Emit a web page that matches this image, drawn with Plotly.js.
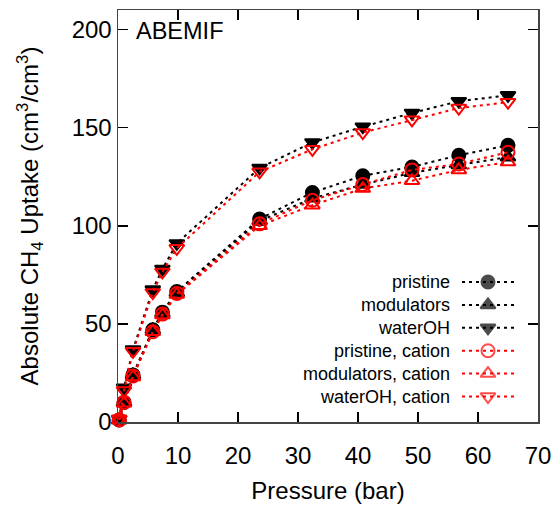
<!DOCTYPE html>
<html>
<head>
<meta charset="utf-8">
<script src="https://cdn.plot.ly/plotly-3.0.1.min.js"></script>
<style>html,body{margin:0;padding:0;background:#fff;}#chart{width:556px;height:506px;}</style>
</head>
<body>
<div id="chart"></div>
<script>
// ---- data ----
const pressure = [0.2, 1.0, 2.5, 5.8, 7.4, 9.8, 23.6, 32.4, 40.8, 49.0, 56.8, 65.0];
const pristine = [1, 10, 24, 47, 56, 66.5, 103.5, 117, 125.5, 130, 136, 141];
const modulators = [1, 10, 24, 47, 55.5, 66, 102.5, 114, 121, 127, 131, 135];
const waterOH = [1.5, 17.5, 37, 67.5, 78, 91, 129.5, 142.5, 150.5, 157.5, 163.5, 166.5];
const pristineCation = [1, 10, 23.5, 46, 55, 65.5, 101, 113, 121, 128.5, 131.5, 137.5];
const modulatorsCation = [1, 9.5, 23, 46, 54.5, 65, 100, 110.5, 119, 123, 128.5, 132.5];
const waterOHCation = [1.5, 16, 36, 66, 76.5, 88.5, 127.5, 139, 147.5, 154, 160, 163];
const seriesNames = ["pristine", "modulators", "waterOH", "pristine, cation", "modulators, cation", "waterOH, cation"];
const xTicks = [0, 10, 20, 30, 40, 50, 60, 70];
const yTicks = [0, 50, 100, 150, 200];

// ---- styles ----
const FONT = "Liberation Sans, Arial, sans-serif";
const seriesData = [pristine, modulators, waterOH, pristineCation, modulatorsCation, waterOHCation];
const colors = ["#000000", "#000000", "#000000", "#ff0000", "#ff0000", "#ff0000"];
const symbols = ["circle", "triangle-up", "triangle-down", "circle-open", "triangle-up-open", "triangle-down-open"];
const DASH = "3px,4px";

const traces = [];
seriesData.forEach((ys, i) => {
  traces.push({
    x: pressure, y: ys, type: "scatter", mode: "lines+markers", name: seriesNames[i],
    line: {color: colors[i], width: 2, dash: DASH},
    marker: {symbol: symbols[i], size: 13, color: colors[i], line: {color: colors[i], width: 2}},
    cliponaxis: false, showlegend: false, xaxis: "x", yaxis: "y"
  });
});

// custom legend (text on the left, sample on the right), in a pixel-mapped overlay axis
const PLOT_L = 118, PLOT_R = 538, PLOT_T = 10, PLOT_B = 422;
const legendTextRight = 452, sampleX0 = 462, sampleX1 = 514, rowTop = 282, rowStep = 22.9;
const annotations = [{
  text: "ABEMIF", xref: "paper", yref: "paper", x: 0.038, y: 0.985, xanchor: "left", yanchor: "top",
  showarrow: false, font: {family: FONT, size: 23.5, color: "#000"}
}];
seriesNames.forEach((nm, i) => {
  const yRow = rowTop + i * rowStep;
  traces.push({
    x: [sampleX0, (sampleX0 + sampleX1) / 2, sampleX1], y: [yRow, yRow, yRow],
    type: "scatter", mode: "lines+markers", xaxis: "x2", yaxis: "y2", showlegend: false, hoverinfo: "skip",
    line: {color: colors[i], width: 2, dash: DASH},
    marker: {symbol: symbols[i], size: [0, 13, 0], color: colors[i], line: {color: colors[i], width: 2}},
    cliponaxis: false
  });
  annotations.push({
    text: nm, xref: "paper", yref: "paper",
    x: (legendTextRight - PLOT_L) / (PLOT_R - PLOT_L), y: (PLOT_B - yRow) / (PLOT_B - PLOT_T),
    xanchor: "right", yanchor: "middle",
    showarrow: false, font: {family: FONT, size: 18, color: "#000"}
  });
});

const axisCommon = {
  ticks: "inside", ticklen: 10, tickwidth: 1.5, tickcolor: "#000",
  showline: true, linecolor: "#444", linewidth: 1.5, mirror: "ticks",
  showgrid: false, zeroline: false,
  tickfont: {family: FONT, size: 24, color: "#000"}
};

const layout = {
  width: 556, height: 506,
  margin: {l: PLOT_L, r: 556 - PLOT_R, t: PLOT_T, b: 506 - PLOT_B},
  paper_bgcolor: "#fff", plot_bgcolor: "#fff",
  showlegend: false,
  font: {family: FONT, color: "#000"},
  xaxis: Object.assign({}, axisCommon, {
    range: [0, 70], tickvals: xTicks, ticktext: xTicks.map(String), ticklabelstandoff: 12,
    title: {text: "Pressure (bar)", font: {family: FONT, size: 24, color: "#000"}, standoff: 14}
  }),
  yaxis: Object.assign({}, axisCommon, {
    range: [0, 210], tickvals: yTicks, ticktext: yTicks.map(String),
    title: {text: "Absolute CH<sub>4</sub> Uptake (cm<sup>3</sup>/cm<sup>3</sup>)", font: {family: FONT, size: 24, color: "#000"}, standoff: 26}
  }),
  xaxis2: {overlaying: "x", range: [PLOT_L, PLOT_R], visible: false, fixedrange: true},
  yaxis2: {overlaying: "y", range: [PLOT_B, PLOT_T], visible: false, fixedrange: true},
  annotations: annotations
};

Plotly.newPlot("chart", traces, layout, {displayModeBar: false, staticPlot: true});
</script>
</body>
</html>
